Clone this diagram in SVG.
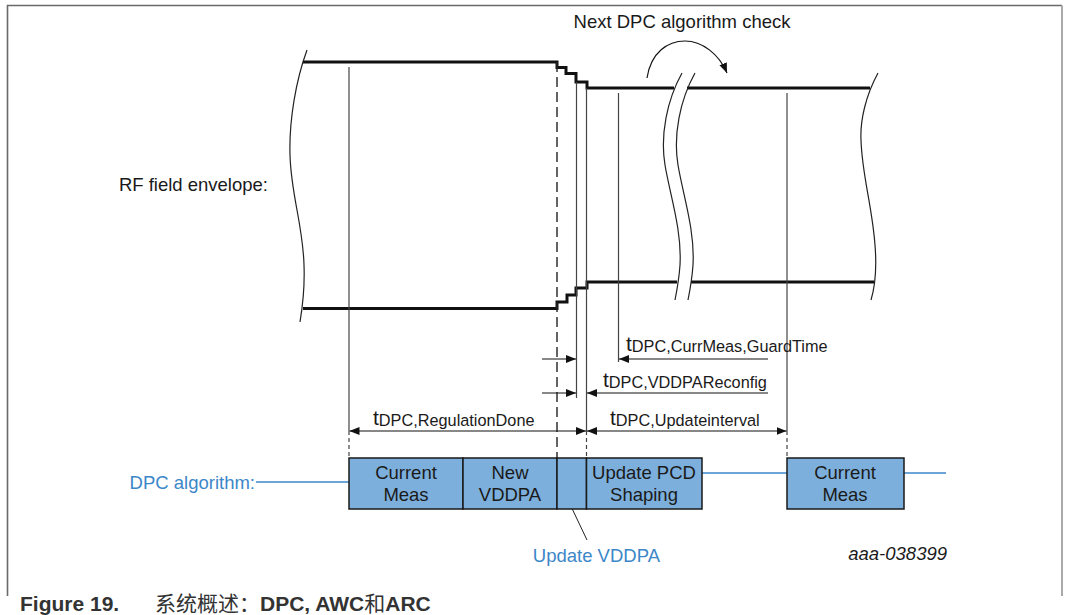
<svg xmlns="http://www.w3.org/2000/svg" width="1066" height="615" viewBox="0 0 1066 615">
  <defs>
    <marker id="arr" viewBox="0 0 10 8" refX="10" refY="4" markerWidth="10" markerHeight="8" markerUnits="userSpaceOnUse" orient="auto-start-reverse">
      <path d="M0,0 L10,4 L0,8 Z" fill="#111"/>
    </marker>
    <style>
      .lbl { font-family: "Liberation Sans", Arial, sans-serif; font-size: 18.5px; fill: #1a1a1a; }
      .blue { fill: #3c87c8; }
      .t { font-family: "Liberation Sans", Arial, sans-serif; font-size: 21px; fill: #1a1a1a; }
      .sub { font-size: 16.3px; }
      .env { stroke: #111; stroke-width: 3; fill: none; }
      .wave { stroke: #222; stroke-width: 1.2; fill: none; }
      .vl { stroke: #444; stroke-width: 1.2; fill: none; }
      .dash { stroke: #222; stroke-width: 1.4; stroke-dasharray: 10 5; fill: none; }
      .dot { stroke: #444; stroke-width: 1.2; stroke-dasharray: 4 3; fill: none; }
      .dim { stroke: #111; stroke-width: 1.2; fill: none; }
      .box { fill: #7dafdc; stroke: #1a1a1a; stroke-width: 1.5; }
      .bl { stroke: #3c87c8; stroke-width: 1.6; fill: none; }
      .cap { font-family: "Liberation Sans", Arial, "Noto Sans CJK SC", sans-serif; font-size: 21px; fill: #333; }
    </style>
  </defs>

  <rect width="1066" height="615" fill="#fff"/>
  <!-- frame -->
  <path d="M7.5,596 V5.5 H1062" fill="none" stroke="#6a6a6a" stroke-width="1.6"/>
  <path d="M1062,5.5 V596" fill="none" stroke="#aaa" stroke-width="2"/>

  <!-- RF field envelope -->
  <g id="envelope">
    <path class="env" d="M303,62 H557 V67.5 H566 V73.5 H576 V82 H587 V88 H674"/>
    <path class="env" d="M687,88 H870"/>
    <path class="env" d="M303,308.5 H557 V302 H567 V295 H576 V288 H587 V282 H677"/>
    <path class="env" d="M691,282 H874"/>
    <path class="wave" d="M307,50 C296,80 289,120 290,155 C291,195 303,225 304,265 C305,290 302,310 300,322"/>
    <path class="wave" d="M878,73 C866,95 860,120 861,140 C862,175 872,205 875,245 C877,270 874,290 871,300"/>
    <path class="wave" d="M682,73 C667,100 660,135 665,165 C670,195 682,230 680,265 C679,280 677,290 675,300"/>
    <path class="wave" d="M695,73 C680,100 673,135 678,165 C683,195 695,230 693,265 C692,280 690,290 688,300"/>
    <text class="lbl" x="268" y="191" text-anchor="end">RF field envelope:</text>
  </g>

  <!-- next check -->
  <g id="next-check">
    <text class="lbl" x="682" y="28" text-anchor="middle" font-size="19.2">Next DPC algorithm check</text>
    <path class="dim" d="M647,78 C651,52 668,41 685,41 C702,41 719,54 727,73" marker-end="url(#arr)"/>
  </g>

  <!-- time markers -->
  <g id="markers">
    <path class="vl" d="M349,67 V431"/>
    <path class="dot" d="M349,431 V458"/>
    <path class="dash" d="M557,62 V458"/>
    <path class="vl" d="M576.5,82 V398"/>
    <path class="vl" d="M586.5,88 V431"/>
    <path class="dot" d="M586.5,431 V458"/>
    <path class="vl" d="M618.5,93 V362"/>
    <path class="vl" d="M787,93 V431"/>
    <path class="dot" d="M787,431 V458"/>
  </g>

  <!-- dimension arrows -->
  <g id="connectors">
    <path class="dim" d="M542,359 H576" marker-end="url(#arr)"/>
    <path class="dim" d="M542,393 H576" marker-end="url(#arr)"/>
    <path class="dim" d="M768,359 H619" marker-end="url(#arr)"/>
    <path class="dim" d="M768,393 H587" marker-end="url(#arr)"/>
    <path class="dim" d="M349.5,431 H586" marker-start="url(#arr)" marker-end="url(#arr)"/>
    <path class="dim" d="M587,431 H786.5" marker-start="url(#arr)" marker-end="url(#arr)"/>
    <path d="M568,500 L587,540" stroke="#222" stroke-width="1" fill="none"/>
    <path class="bl" d="M256,482 H349"/>
    <path class="bl" d="M702,473 H787"/>
    <path class="bl" d="M904,473 H946"/>
  </g>

  <!-- dimension labels -->
  <g id="dim-labels">
    <text class="t" x="626" y="351">t<tspan class="sub" dy="1">DPC,CurrMeas,GuardTime</tspan></text>
    <text class="t" x="603" y="387">t<tspan class="sub" dy="1">DPC,VDDPAReconfig</tspan></text>
    <text class="t" x="373" y="425">t<tspan class="sub" dy="1">DPC,RegulationDone</tspan></text>
    <text class="t" x="610" y="425">t<tspan class="sub" dy="1">DPC,Updateinterval</tspan></text>
  </g>

  <!-- DPC algorithm timeline -->
  <text class="lbl blue" x="255" y="489" text-anchor="end" font-size="19">DPC algorithm:</text>

  <g id="box-current-meas-1">
    <rect class="box" x="349" y="458" width="114" height="51"/>
    <text class="lbl" x="406" y="479" text-anchor="middle">Current</text>
    <text class="lbl" x="406" y="501" text-anchor="middle">Meas</text>
  </g>
  <g id="box-new-vddpa">
    <rect class="box" x="463" y="458" width="94" height="51"/>
    <text class="lbl" x="510" y="479" text-anchor="middle">New</text>
    <text class="lbl" x="510" y="501" text-anchor="middle">VDDPA</text>
  </g>
  <g id="box-update-vddpa">
    <rect class="box" x="557" y="458" width="29.5" height="51"/>
  </g>
  <g id="box-update-pcd">
    <rect class="box" x="586.5" y="458" width="115.5" height="51"/>
    <text class="lbl" x="644" y="479" text-anchor="middle">Update PCD</text>
    <text class="lbl" x="644" y="501" text-anchor="middle">Shaping</text>
  </g>
  <g id="box-current-meas-2">
    <rect class="box" x="787" y="458" width="117" height="51"/>
    <text class="lbl" x="845" y="479" text-anchor="middle">Current</text>
    <text class="lbl" x="845" y="501" text-anchor="middle">Meas</text>
  </g>

  <text class="lbl blue" x="660" y="562" text-anchor="end">Update VDDPA</text>
  <text class="lbl" x="947" y="560" text-anchor="end" font-style="italic" font-size="15.5">aaa-038399</text>

  <!-- caption -->
  <text class="cap" x="20" y="611"><tspan font-weight="bold">Figure 19.</tspan><tspan x="155">系统概述：</tspan><tspan font-weight="bold">DPC, AWC</tspan><tspan>和</tspan><tspan font-weight="bold">ARC</tspan></text>
</svg>
